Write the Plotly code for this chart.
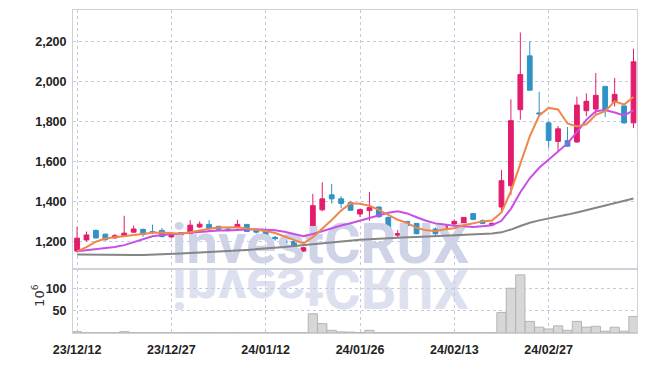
import base64
import plotly.graph_objects as go

# ---------------- data ----------------
dates = ["23/12/12", "23/12/13", "23/12/14", "23/12/15", "23/12/18", "23/12/19", "23/12/20",
         "23/12/21", "23/12/22", "23/12/26", "23/12/27", "23/12/28", "24/01/02", "24/01/03",
         "24/01/04", "24/01/05", "24/01/08", "24/01/09", "24/01/10", "24/01/11", "24/01/12",
         "24/01/15", "24/01/16", "24/01/17", "24/01/18", "24/01/19", "24/01/22", "24/01/23",
         "24/01/24", "24/01/25", "24/01/26", "24/01/29", "24/01/30", "24/01/31", "24/02/01",
         "24/02/02", "24/02/05", "24/02/06", "24/02/07", "24/02/08", "24/02/13", "24/02/14",
         "24/02/15", "24/02/16", "24/02/19", "24/02/20", "24/02/21", "24/02/22", "24/02/23",
         "24/02/26", "24/02/27", "24/02/28", "24/02/29", "24/03/04", "24/03/05", "24/03/06",
         "24/03/07", "24/03/08", "24/03/11", "24/03/12"]

open_ = [1150, 1206, 1254, 1235, 1216, 1228, 1245, 1259, 1248, 1254, 1221, 1242, 1239, 1271,
         1284, 1274, 1260, 1271, 1284, 1254, 1253, 1219, 1205, 1198, 1150, 1187, 1357, 1432,
         1412, 1393, 1336, 1353, 1371, 1319, 1230, 1299, 1289, 1236, 1261, 1253, 1286, 1290,
         1338, 1302, 1283, 1371, 1478, 1859, 2129, 1843, 1793, 1700, 1704, 1697, 1854, 1862,
         1976, 1895, 1878, 1793]
high = [1272, 1248, 1258, 1238, 1236, 1327, 1278, 1262, 1283, 1266, 1238, 1244, 1305, 1299,
        1305, 1277, 1266, 1307, 1286, 1256, 1256, 1225, 1210, 1205, 1172, 1437, 1495, 1487,
        1426, 1401, 1363, 1447, 1373, 1323, 1256, 1300, 1291, 1269, 1269, 1285, 1309, 1320,
        1340, 1309, 1294, 1557, 1911, 2246, 2203, 1949, 1800, 1777, 1772, 1925, 1941, 2043,
        1978, 2018, 1885, 2165]
low = [1145, 1198, 1212, 1202, 1214, 1223, 1241, 1222, 1235, 1218, 1217, 1222, 1192, 1266,
       1250, 1250, 1250, 1264, 1246, 1238, 1214, 1202, 1185, 1145, 1145, 1183, 1350, 1388,
       1365, 1352, 1320, 1302, 1318, 1248, 1220, 1250, 1234, 1225, 1228, 1241, 1278, 1262,
       1305, 1285, 1279, 1352, 1431, 1809, 1955, 1832, 1668, 1645, 1673, 1694, 1826, 1832,
       1822, 1875, 1788, 1767]
close = [1215, 1231, 1216, 1207, 1227, 1240, 1261, 1233, 1244, 1223, 1235, 1230, 1280, 1285,
         1264, 1260, 1256, 1284, 1248, 1245, 1216, 1212, 1189, 1150, 1167, 1378, 1412, 1412,
         1389, 1355, 1358, 1368, 1322, 1253, 1238, 1278, 1237, 1256, 1237, 1276, 1299, 1319,
         1309, 1289, 1289, 1503, 1804, 2035, 1957, 1838, 1705, 1763, 1676, 1882, 1901, 1931,
         1854, 1936, 1793, 2099]

ma_short = [1149, 1170, 1197, 1213, 1220, 1226, 1232, 1236, 1242, 1243, 1241, 1237, 1245, 1254,
            1262, 1268, 1270, 1270, 1263, 1258, 1251, 1241, 1224, 1205, 1189, 1220, 1262, 1306,
            1353, 1390, 1387, 1377, 1357, 1330, 1307, 1291, 1267, 1254, 1251, 1259, 1265, 1280,
            1291, 1299, 1303, 1344, 1450, 1588, 1725, 1830, 1868, 1860, 1790, 1775, 1786, 1833,
            1852, 1901, 1885, 1923]
ma_mid = [1149, 1154, 1159, 1165, 1171, 1180, 1195, 1211, 1224, 1231, 1235, 1238, 1241, 1246,
          1250, 1253, 1253, 1257, 1258, 1259, 1258, 1255, 1247, 1234, 1224, 1236, 1251, 1265,
          1278, 1290, 1303, 1318, 1332, 1342, 1350, 1339, 1320, 1302, 1289, 1282, 1277, 1274,
          1271, 1275, 1280, 1302, 1362, 1445, 1515, 1568, 1608, 1651, 1690, 1746, 1808, 1851,
          1857, 1845, 1830, 1856]
ma_long = [1133, 1132, 1131, 1131, 1130, 1130, 1130, 1131, 1132, 1134, 1136, 1138, 1140, 1142,
           1144, 1147, 1150, 1153, 1156, 1159, 1162, 1166, 1170, 1175, 1180, 1185, 1190, 1195,
           1200, 1204, 1207, 1210, 1213, 1215, 1217, 1219, 1221, 1223, 1225, 1227, 1229, 1231,
           1233, 1235, 1238, 1244, 1258, 1276, 1292, 1304, 1313, 1322, 1333, 1344, 1356, 1368,
           1380, 1391, 1402, 1414]

volume = [3, 0.5, 0.4, 0.4, 0.5, 3, 0.5, 0.4, 0.4, 0.5, 0.4, 0.4, 0.6, 0.5, 0.5, 0.4, 0.4, 0.5,
          0.4, 0.4, 0.5, 0.4, 0.5, 0.6, 0.6, 43, 21, 6, 2.5, 2, 1, 6, 0.8, 0.7, 0.6, 0.6, 0.5,
          0.5, 0.5, 0.6, 0.6, 0.7, 0.6, 0.5, 0.6, 46, 100, 130, 26, 13, 9, 16, 6, 26, 13, 15, 4,
          13, 4, 37]

price_ticks = [1200, 1400, 1600, 1800, 2000, 2200]
volume_ticks = [50, 100]
date_tick_every = 10
watermark = "investCRUX"
volume_unit = "10<sup>6</sup>"

# ---------------- style ----------------
UP = "#e31c6c"
DOWN = "#2e93c7"
ORANGE = "#f0864a"
PURPLE = "#c94ee6"
GRAY_LINE = "#858585"
GRID = "#c5c9dd"
FRAME = "#cfd1da"
WM = "rgb(206,211,231)"
TICKFONT = dict(family="Liberation Sans, Arial, sans-serif", size=12.5, color="#222222",
                weight="bold")

x = list(range(len(dates)))
tick_idx = x[::date_tick_every]
tick_txt = [dates[i] for i in tick_idx]

fig = go.Figure()

# watermark (behind candles)
fig.add_trace(go.Scatter(
    x=[25.8], y=[1160], mode="text", text=[watermark],
    textfont=dict(family="Roboto", size=56, color=WM, weight="bold"),
    textposition="middle center", hoverinfo="skip", showlegend=False,
    xaxis="x", yaxis="y", cliponaxis=False))

fig.add_trace(go.Scatter(x=x, y=ma_long, mode="lines",
                         line=dict(color=GRAY_LINE, width=2),
                         showlegend=False, xaxis="x", yaxis="y"))

fig.add_trace(go.Candlestick(
    x=x, open=open_, high=high, low=low, close=close,
    increasing=dict(line=dict(color=UP, width=1), fillcolor=UP),
    decreasing=dict(line=dict(color=DOWN, width=1), fillcolor=DOWN),
    whiskerwidth=0, showlegend=False, xaxis="x", yaxis="y"))

fig.add_trace(go.Scatter(x=x, y=ma_mid, mode="lines",
                         line=dict(color=PURPLE, width=2),
                         showlegend=False, xaxis="x", yaxis="y"))
fig.add_trace(go.Scatter(x=x, y=ma_short, mode="lines",
                         line=dict(color=ORANGE, width=2),
                         showlegend=False, xaxis="x", yaxis="y"))

fig.add_trace(go.Bar(x=x, y=volume,
                     marker=dict(color="#d7d7d7", line=dict(color="#b4b4b4", width=1)),
                     showlegend=False, xaxis="x2", yaxis="y2"))

# mirrored reflection of the watermark inside the volume panel
svg = ('<svg xmlns="http://www.w3.org/2000/svg" width="564" height="65" viewBox="0 0 564 65">'
       '<g transform="translate(0,-0.5) scale(1,-1)">'
       '<text x="247.5" y="0" text-anchor="middle" font-family="Roboto" font-weight="bold" '
       'font-size="56" fill="rgb(221,224,238)">' + watermark + '</text></g></svg>')
src = "data:image/svg+xml;base64," + base64.b64encode(svg.encode()).decode()

split = 0.198
xrange_ = [-0.43, len(dates) - 0.63]

common_x = dict(range=xrange_, tickvals=tick_idx, showgrid=True, gridcolor=GRID,
                griddash="dot", gridwidth=1, showline=True, mirror=True, linecolor=FRAME,
                zeroline=False)

fig.update_layout(
    width=647, height=366,
    margin=dict(l=73, r=10, t=9, b=29),
    paper_bgcolor="white", plot_bgcolor="white",
    bargap=0.02, boxgap=0.28,
    xaxis=dict(**common_x, domain=[0, 1], anchor="y", showticklabels=False, ticks="",
               rangeslider=dict(visible=False)),
    xaxis2=dict(**common_x, domain=[0, 1], anchor="y2", matches="x",
                ticktext=tick_txt, showticklabels=True, tickfont=TICKFONT,
                ticks="outside", ticklen=5, tickcolor="rgba(0,0,0,0)"),
    yaxis=dict(domain=[split, 1], range=[1060, 2359], tickvals=price_ticks,
               tickformat=",", showgrid=True, gridcolor=GRID, griddash="dot",
               showline=True, mirror=True, linecolor=FRAME, zeroline=False,
               ticks="outside", ticklen=3, tickcolor="rgba(0,0,0,0)", tickfont=TICKFONT),
    yaxis2=dict(domain=[0, split], range=[0, 143], tickvals=volume_ticks,
                showgrid=True, gridcolor=GRID, griddash="dot",
                showline=True, mirror=True, linecolor=FRAME, zeroline=False,
                ticks="outside", ticklen=3, tickcolor="rgba(0,0,0,0)", tickfont=TICKFONT),
    annotations=[dict(text=volume_unit, xref="paper", yref="paper", x=-0.062, y=0.115,
                      textangle=-90, showarrow=False, xanchor="center", yanchor="middle",
                      font=dict(family="DejaVu Sans", size=13, color="#333333"))],
    images=[dict(source=src, xref="paper", yref="paper", x=0, y=split, sizex=1, sizey=split,
                 xanchor="left", yanchor="top", sizing="stretch", layer="below")],
)

fig.write_html("out.html")
